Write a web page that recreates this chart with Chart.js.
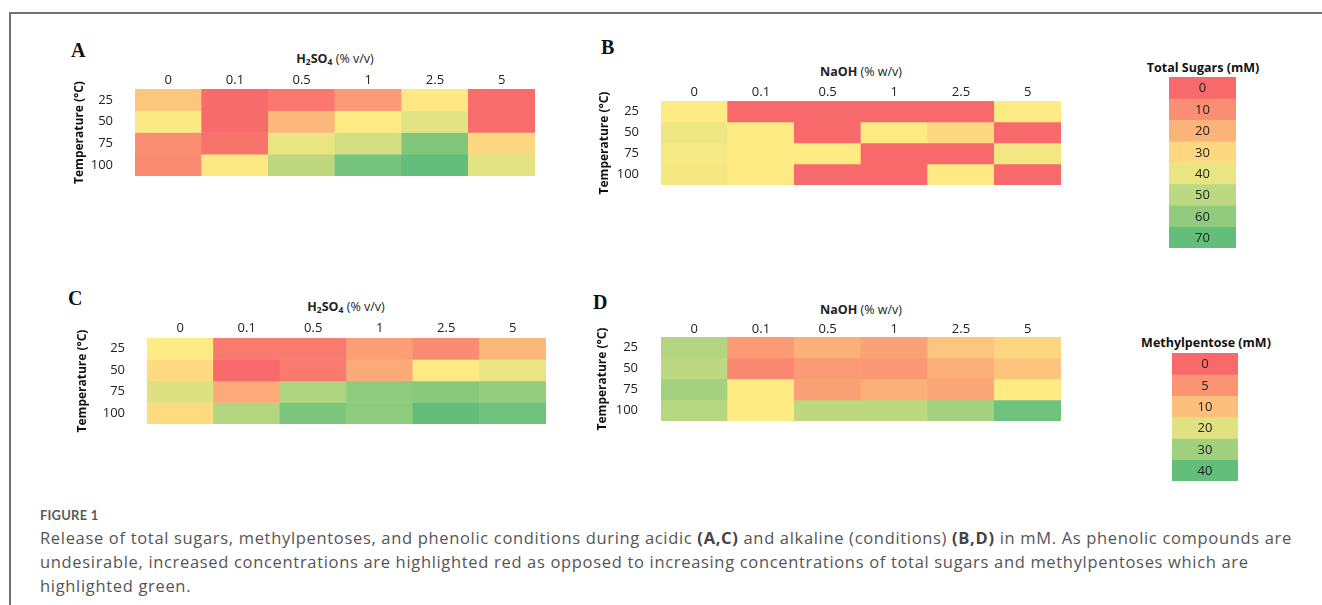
<!DOCTYPE html>
<html>
<head>
<meta charset="utf-8">
<script src="https://cdn.jsdelivr.net/npm/chart.js@4"></script>
<style>
  body { margin: 0; width: 1322px; height: 605px; background: #fff; position: relative; overflow: hidden; font-family: "Open Sans", sans-serif; }
  .frame { position: absolute; left: 9px; top: 12px; width: 1320px; height: 600px; border-top: 2px solid #6f6f7d; border-left: 2px solid #6f6f7d; }
  canvas { position: absolute; }
  .pl { position: absolute; font: bold 20px/20px "Liberation Serif", serif; color: #111; }
  .xt { position: absolute; font-size: 12.5px; line-height: 16px; color: #222; white-space: nowrap; transform: translate(-50%, -50%); }
  .xt sub { font-size: 8.5px; vertical-align: -2px; }
  .lt { position: absolute; font-weight: bold; font-size: 12.5px; line-height: 16px; color: #111; white-space: nowrap; transform: translate(-50%, -50%); }
  .fig { position: absolute; left: 40px; top: 506px; font: bold 13px/18px Lato, sans-serif; color: #5b5b5b; letter-spacing: 0.2px; }
  .cap { position: absolute; left: 40px; top: 526px; font: 16.5px/24px "Open Sans", sans-serif; color: #555; white-space: nowrap; }
  .cap b { color: #444; }
</style>
</head>
<body>
<div class="frame"></div>

<div class="pl" style="left:71px;top:40px">A</div>
<div class="pl" style="left:601px;top:37px">B</div>
<div class="pl" style="left:68px;top:288px">C</div>
<div class="pl" style="left:593px;top:292px">D</div>

<div class="xt" style="left:335px;top:60px"><b>H<sub>2</sub>SO<sub>4</sub></b> (% v/v)</div>
<div class="xt" style="left:861px;top:72px"><b>NaOH</b> (% w/v)</div>
<div class="xt" style="left:346px;top:308px"><b>H<sub>2</sub>SO<sub>4</sub></b> (% v/v)</div>
<div class="xt" style="left:861px;top:310px"><b>NaOH</b> (% w/v)</div>

<div class="lt" style="left:1203px;top:68px">Total Sugars (mM)</div>
<div class="lt" style="left:1206px;top:343px">Methylpentose (mM)</div>

<canvas id="chartA"></canvas>
<canvas id="chartB"></canvas>
<canvas id="chartC"></canvas>
<canvas id="chartD"></canvas>
<canvas id="legSugar"></canvas>
<canvas id="legMethyl"></canvas>

<div class="fig">FIGURE 1</div>
<div class="cap"><span id="line1">Release of total sugars, methylpentoses, and phenolic conditions during acidic <b>(A,C)</b> and alkaline (conditions) <b>(B,D)</b> in mM. As phenolic compounds are</span><br>undesirable, increased concentrations are highlighted red as opposed to increasing concentrations of total sugars and methylpentoses which are<br>highlighted green.</div>

<script>
// acid / alkali concentrations and temperatures
const concs = ["0", "0.1", "0.5", "1", "2.5", "5"];
const temps = ["25", "50", "75", "100"];

// total sugars (mM), rows = temps, cols = concs
const sugarsAcid = [
  [25, 0.5, 4.3, 13.5, 34, 1],
  [36, 0.5, 21, 35, 41.5, 1],
  [10, 2.7, 40, 44.7, 63.5, 30],
  [9.4, 34.5, 49.4, 66, 70, 41.5]
];
const sugarsAlkali = [
  [35, 0, 0, 0, 0, 35],
  [38.8, 35, 0, 35, 30, 0],
  [37, 35, 35, 0, 0, 38],
  [37.2, 35, 0, 0, 35, 0]
];

// methylpentose (mM)
const methylAcid = [
  [15, 2, 2, 6, 4, 9],
  [13, 0, 2, 7.5, 15, 18.5],
  [20.5, 7.5, 28, 33, 34, 32],
  [13, 27, 36, 33, 40, 38]
];
const methylAlkali = [
  [27, 5.7, 8.2, 6.5, 10.6, 12.5],
  [25.7, 3.7, 5.8, 5.4, 8, 10.5],
  [29.7, 15, 6.5, 8.2, 7, 15],
  [26.5, 15, 25.4, 25.4, 29.7, 38]
];

// legend steps
const sugarSteps = [0, 10, 20, 30, 40, 50, 60, 70];
const methylSteps = [0, 5, 10, 20, 30, 40];

// red - yellow - green colour scale (min, mid, max)
const sugarScale = [0, 35, 70];
const methylScale = [0, 15, 40];
const RED = [248, 105, 107], YEL = [255, 235, 132], GRN = [99, 190, 123];

function colorFor(v, sc) {
  let a, b, t;
  if (v <= sc[1]) { a = RED; b = YEL; t = (v - sc[0]) / (sc[1] - sc[0]); }
  else { a = YEL; b = GRN; t = (v - sc[1]) / (sc[2] - sc[1]); }
  t = Math.max(0, Math.min(1, t));
  const c = a.map((x, k) => Math.round(x + (b[k] - x) * t));
  return "rgb(" + c.join(",") + ")";
}

const tickFont = { family: "Open Sans", size: 13 };

// numbers inside the legend cells
const cellLabels = {
  id: "cellLabels",
  afterDatasetsDraw(chart) {
    if (!chart.options.plugins.cellLabels) return;
    const ctx = chart.ctx;
    ctx.save();
    ctx.font = '13px "Open Sans"';
    ctx.fillStyle = "#222";
    ctx.textAlign = "center";
    ctx.textBaseline = "middle";
    chart.data.datasets.forEach((ds, i) => {
      const el = chart.getDatasetMeta(i).data[0];
      ctx.fillText(ds.label, el.x, (el.y + el.base) / 2 + 1);
    });
    ctx.restore();
  }
};

function heatmap(id, box, cols, rows, values, sc, o) {
  const extra = o.inner ? 0 : 25; // room under the grid for the long y title
  const cv = document.getElementById(id);
  cv.style.left = box.x + "px";
  cv.style.top = box.y + "px";
  cv.width = box.w;
  cv.height = box.h + extra;
  return new Chart(cv, {
    type: "bar",
    data: {
      labels: cols,
      datasets: rows.map((r, i) => ({
        label: r,
        data: cols.map(() => [i, i + 1]),
        backgroundColor: values[i].map(v => colorFor(v, sc)),
        borderWidth: 0,
        barPercentage: 1,
        categoryPercentage: 1,
        grouped: false
      }))
    },
    plugins: [cellLabels],
    options: {
      responsive: false,
      animation: false,
      events: [],
      layout: { padding: { top: 0, left: 0, right: 0, bottom: extra } },
      plugins: { legend: { display: false }, tooltip: { enabled: false }, cellLabels: !!o.inner },
      scales: {
        x: {
          position: "top",
          grid: { display: false, drawTicks: false },
          border: { display: false },
          ticks: { display: !o.inner, padding: o.xPad || 0, color: "#222", font: tickFont, maxRotation: 0 },
          afterFit: s => { s.height = o.xh; s.paddingLeft = 0; s.paddingRight = 0; }
        },
        y: {
          min: 0,
          max: rows.length,
          reverse: true,
          grid: { display: false, drawTicks: false },
          border: { display: false },
          afterBuildTicks: s => { s.ticks = rows.map((r, i) => ({ value: i + 0.5 })); },
          ticks: { display: !o.inner, autoSkip: false, padding: o.yPad || 0, color: "#222", font: tickFont,
                   callback: (v, i) => rows[i] },
          title: { display: !o.inner, text: "Temperature (°C)", color: "#111",
                   font: { family: "Open Sans", size: 12, weight: "bold" }, padding: { top: 4, bottom: 4 } },
          afterFit: s => { s.width = o.yw; s.paddingTop = 0; s.paddingBottom = 0; }
        }
      }
    }
  });
}

heatmap("chartA", { x: 68, y: 48, w: 467, h: 128 }, concs, temps, sugarsAcid, sugarScale, { xh: 41, yw: 67, yPad: 22, xPad: 1 });
heatmap("chartB", { x: 593, y: 60, w: 468, h: 125 }, concs, temps, sugarsAlkali, sugarScale, { xh: 41, yw: 68, yPad: 22, xPad: 1 });
heatmap("chartC", { x: 71, y: 296, w: 475, h: 128 }, concs, temps, methylAcid, methylScale, { xh: 42, yw: 76, yPad: 22, xPad: 2 });
heatmap("chartD", { x: 591, y: 298, w: 470, h: 123 }, concs, temps, methylAlkali, methylScale, { xh: 39, yw: 70, yPad: 23, xPad: 0 });

heatmap("legSugar", { x: 1169, y: 77, w: 67, h: 171 }, [""], sugarSteps.map(String), sugarSteps.map(v => [v]), sugarScale, { xh: 0, yw: 0, inner: true });
heatmap("legMethyl", { x: 1172, y: 353, w: 66, h: 128 }, [""], methylSteps.map(String), methylSteps.map(v => [v]), methylScale, { xh: 0, yw: 0, inner: true });

// stretch the caption so the first line ends where the original does
function fitCaption() {
  const cap = document.querySelector(".cap");
  const l1 = document.getElementById("line1");
  const n = l1.textContent.length;
  cap.style.letterSpacing = "0px";
  const w = l1.getBoundingClientRect().width;
  cap.style.letterSpacing = ((1252 - w) / n).toFixed(3) + "px";
}
fitCaption();
if (document.fonts) document.fonts.ready.then(fitCaption);
</script>
</body>
</html>
